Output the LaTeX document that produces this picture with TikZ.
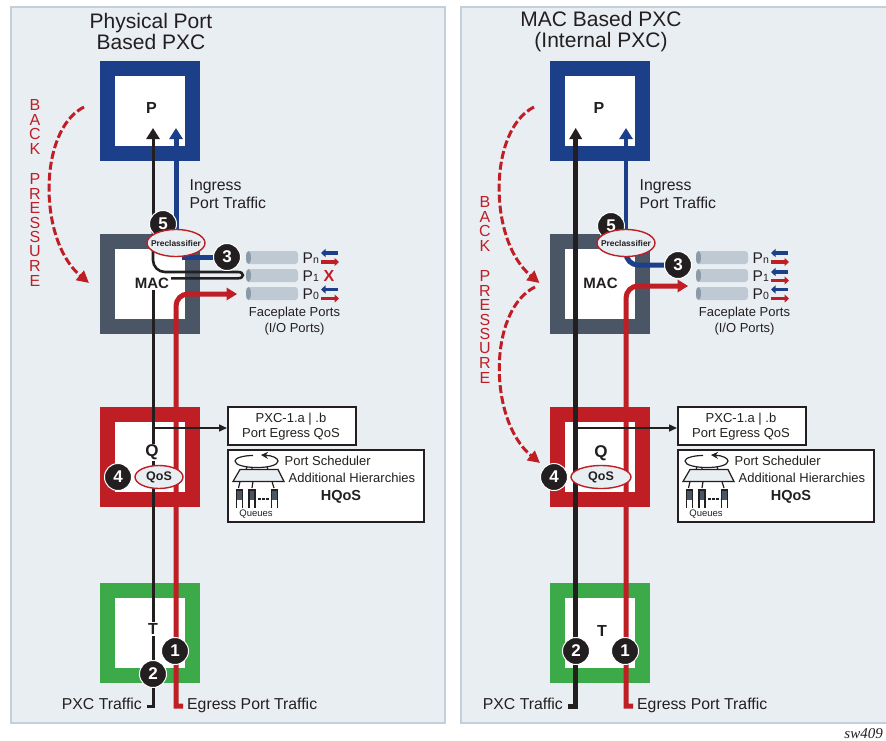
\documentclass[tikz,border=0pt]{standalone}
\usepackage{fontspec}
\setmainfont{Liberation Sans}
\newfontfamily\serifid{Liberation Serif}
\usetikzlibrary{arrows.meta,shapes.geometric}
\pgfdeclarelayer{sq}
\pgfdeclarelayer{ln}
\pgfsetlayers{sq,ln,main}
\definecolor{cblue}{HTML}{1C3F8A}
\definecolor{cslate}{HTML}{4A5565}
\definecolor{cred}{HTML}{BE1E24}
\definecolor{cgreen}{HTML}{3DAA4A}
\definecolor{cblack}{HTML}{231F20}
\definecolor{cbg}{HTML}{E9EEF3}
\definecolor{cedge}{HTML}{C3CFDA}
\definecolor{ccyl}{HTML}{BFC9D3}
\definecolor{ccap}{HTML}{8C9AA8}
\newcommand{\fs}[1]{\fontsize{#1}{#1}\selectfont}
\newcommand{\zerow}[1]{\makebox[0pt]{#1}}
\tikzset{
  x=1pt,y=-1pt,
  panelbox/.style={draw=cedge,line width=2pt,fill=cbg,anchor=north west,inner sep=0pt,minimum height=716pt},
  framebox/.style={draw=#1,line width=15pt,fill=white,minimum width=85pt,minimum height=85pt,inner sep=0pt},
  txt/.style={inner sep=0pt,font=\fs{#1},text=cblack},
  txt/.default=13,
  boldmark/.style={inner sep=1.5pt,fill=white,text=cblack,font=\bfseries\fs{#1}},
  num/.style={circle,fill=cblack,draw=white,line width=1pt,minimum size=27pt,inner sep=0pt,text=white,font=\bfseries\fs{17}},
  oval/.style={ellipse,draw=cred,line width=1.4pt,fill=cbg,inner sep=0pt,text=cblack},
  bigtip/.style={-{Triangle[length=11pt,width=13pt]}},
  redline/.style={draw=cred,line width=5pt},
  blueline/.style={draw=cblue,line width=5pt},
  blackline/.style={draw=cblack,line width=3pt},
  thickblack/.style={draw=cblack,line width=5.5pt},
  mini/.style={line width=3.6pt,-{Triangle[length=4.5pt,width=8pt]}},
  infobox/.style={draw=cblack,line width=1.5pt,fill=white,anchor=north west,inner sep=0pt},
  bparc/.style={draw=cred,line width=3pt,dash pattern=on 8pt off 3pt,-{Triangle[length=12pt,width=12pt]}},
  bpletter/.style={inner sep=0pt,text=cred,font=\fs{16}},
  cylbody/.style={fill=ccyl,rounded corners=3pt,minimum width=52pt,minimum height=13pt,inner sep=0pt},
  cylcap/.style={ellipse,fill=ccap,minimum width=5pt,minimum height=13pt,inner sep=0pt},
  icon/.style={draw=cblack,line width=1.2pt},
}
\begin{document}
\begin{tikzpicture}
\useasboundingbox (0,0) rectangle (886,740);
\begin{pgfonlayer}{sq}
  \node[panelbox,minimum width=433.5pt] (panelL) at (10,6) {};
  \node[panelbox,minimum width=430pt] (panelR) at (460,6) {};
\end{pgfonlayer}

\foreach \s/\dx in {L/0,R/450}{
\begin{scope}[xshift=\dx pt]
  \begin{pgfonlayer}{sq}
    \node[framebox=cblue]  (frameP\s) at (150,110.5) {};
    \node[framebox=cslate] (frameM\s) at (150,284) {};
    \node[framebox=cred]   (frameQ\s) at (150,457) {};
    \node[framebox=cgreen] (frameT\s) at (150,633) {};
  \end{pgfonlayer}
  % ports
  \foreach \n/\y in {n/257.5,1/275.5,0/293.5}{
    \node[cylbody] (cyl\n\s) at (272,\y) {};
    \node[cylcap] (cap\n\s) at (248.5,\y) {};
    \node[txt=15.5,anchor=base west] (lab\n\s) at (302.5,\y+5.5) {P{\fs{10.5}\n}};
  }
  \draw[mini,cblue] (338,253) -- (321,253);
  \draw[mini,cred]  (321,262) -- (339,262);
  \draw[mini,cblue] (338,289.5) -- (321,289.5);
  \draw[mini,cred]  (321,298.5) -- (339,298.5);
  \node[txt=13,anchor=center] (faceA\s) at (294.5,313) {Faceplate Ports};
  \node[txt=13,anchor=center] (faceB\s) at (294.5,329) {(I/O Ports)};
  \node[txt=15.8,anchor=base west] (ing\s) at (189.5,190) {Ingress};
  \node[txt=15.8,anchor=base west] (ptr\s) at (189.5,208) {Port Traffic};
  % boxes
  \node[infobox,minimum width=128pt,minimum height=38pt] (boxA\s) at (227,406) {};
  \node[txt=13] (boxAa\s) at (291,419) {PXC-1.a | .b};
  \node[txt=13] (boxAb\s) at (291,434.5) {Port Egress QoS};
  \node[infobox,minimum width=196pt,minimum height=72pt] (boxB\s) at (227,449) {};
  \draw[icon,-{Stealth[length=7pt,width=7pt]}] (253,455.5) .. controls (243,455.5) and (235,458) .. (235,461)
     .. controls (235,465) and (245,467.5) .. (257,467.5) .. controls (269,467.5) and (278,465) .. (278,461)
     .. controls (278,458) and (272,455.5) .. (261,455);
  \draw[icon,fill=cbg] (240,469.5) -- (278,469.5) -- (284,481.5) -- (233,481.5) -- cycle;
  \draw[icon] (247,467) -- (246,469.5) (252,467.5) -- (252,469.5) (267,467) -- (268,469.5);
  \draw[icon] (240,481.5) -- (238.5,488) (253,481.5) -- (252,488) (272,481.5) -- (274,488);
  \foreach \qx in {236.5,249,271.5}{
    \fill[cslate] (\qx,490) rectangle (\qx+6,500);
    \draw[icon] (\qx,508) -- (\qx,490) -- (\qx+6,490) -- (\qx+6,508);
  }
  \draw[icon,line width=1.4pt,dash pattern=on 2.5pt off 1.5pt] (258,499) -- (270,499);
  \node[txt=9.5] (qlab\s) at (256,514.5) {Queues};
  \node[txt=13,anchor=west] (sched\s) at (284.5,461) {Port Scheduler};
  \node[txt=13,anchor=west] (hier\s) at (288.5,478) {Additional Hierarchies};
  \node[inner sep=0pt,text=cblack,font=\bfseries\fs{14.5}] (hqos\s) at (341,497) {HQoS};
\end{scope}
}

% titles
\node[txt=21,align=center] (titleL) at (151,31.5) {Physical Port\\[0pt]Based PXC};
\node[txt=21,align=center] (titleR) at (601,31.5) {MAC Based PXC\\[0pt](Internal PXC)};
\node[inner sep=0pt,anchor=east,font=\serifid\itshape\fs{15},text=cblack] (swid) at (883,733.5) {sw409};
\node[text=cred,inner sep=0pt,font=\bfseries\fs{16}] (xmark) at (329,275.5) {X};

% letters
\node[boldmark=16] (lPL) at (151.5,108) {P};
\node[boldmark=15] (lML) at (152,283) {MAC};
\node[boldmark=17,inner sep=1pt] (lQL) at (152,452.5) {Q};
\node[boldmark=16] (lTL) at (153,629) {T};
\node[boldmark=16] (lPR) at (599,108) {P};
\node[boldmark=15] (lMR) at (600.5,283) {MAC};
\node[boldmark=17,inner sep=0pt] (lQR) at (601,453) {Q};
\node[boldmark=16] (lTR) at (602,631) {T};

% numbered markers
\node[num] (n5L) at (163,224) {5};
\node[num] (n3L) at (227,257) {3};
\node[num] (n4L) at (118,477) {4};
\node[num] (n1L) at (175,651) {1};
\node[num] (n2L) at (153,674) {2};
\node[num] (n5R) at (611,226) {5};
\node[num] (n3R) at (678,265) {3};
\node[num] (n4R) at (554,477) {4};
\node[num] (n1R) at (625,651) {1};
\node[num] (n2R) at (576,651) {2};

% ovals
\node[oval,minimum width=58pt,minimum height=27pt,font=\bfseries\fs{8.4}] (preL) at (176,243) {\zerow{Preclassifier}};
\node[oval,minimum width=58pt,minimum height=27pt,font=\bfseries\fs{8.4}] (preR) at (626,243) {\zerow{Preclassifier}};
\node[oval,minimum width=48pt,minimum height=23pt,font=\bfseries\fs{12.5}] (qosL) at (159,477) {\zerow{QoS}};
\node[oval,minimum width=60pt,minimum height=23pt,font=\bfseries\fs{12.5}] (qosR) at (601,477) {\zerow{QoS}};

% traffic labels
\node[txt=15.8,anchor=base east] (pxcLabL) at (142,709.5) {PXC Traffic};
\node[txt=15.8,anchor=base west] (egrLabL) at (187,709.5) {Egress Port Traffic};
\node[txt=15.8,anchor=base east] (pxcLabR) at (563,709.5) {PXC Traffic};
\node[txt=15.8,anchor=base west] (egrLabR) at (637,709.5) {Egress Port Traffic};

% free ends
\coordinate (tipBlackL) at (153,128);
\coordinate (tipBlueL)  at (176,128);
\coordinate (tipRedL)   at (237,294);
\coordinate (hookRedL)  at (183,706);
\coordinate (baseRedL)  at (176,706);
\coordinate (hookPxcL)  at (147,706.5);
\coordinate (basePxcL)  at (153,706.5);
\coordinate (forkL)     at (153,428);
\coordinate (tipBlackR) at (575.7,128);
\coordinate (tipBlueR)  at (626,128);
\coordinate (tipRedR)   at (688,286);
\coordinate (hookRedR)  at (633,706);
\coordinate (baseRedR)  at (626,706);
\coordinate (hookPxcR)  at (568,706.5);
\coordinate (basePxcR)  at (575.7,706.5);
\coordinate (forkR)     at (575.7,428);
\coordinate (pinTopL)   at (238,272);
\coordinate (pinLowL)   at (238,278.3);

\begin{pgfonlayer}{ln}
  % left panel
  \draw[redline] (hookRedL) -- (baseRedL) [rounded corners=12pt] -- (baseRedL |- tipRedL) -- ([xshift=-9pt]tipRedL);
  \fill[cred] (tipRedL) -- ++(-10.5,-6.5) -- ++(0,13) -- cycle;
  \draw[blackline] (hookPxcL) -- (basePxcL) -- (basePxcL |- lML);
  \draw[blackline,bigtip] (tipBlackL |- n5L) -- (tipBlackL);
  \draw[draw=cblack,line width=2.6pt,rounded corners=12pt] (tipBlackL |- n5L) -- (tipBlackL |- pinTopL) -- (pinTopL);
  \draw[draw=cblack,line width=2.6pt] (pinTopL) .. controls +(6.5,0) and +(6.5,0) .. (pinLowL) -- (lML.east |- pinLowL);
  \draw[blueline,bigtip] (preL.north) -- (tipBlueL);
  \draw[blueline] (182,257) -- (n3L);
  \draw[draw=cblack,line width=1.5pt,-{Triangle[length=8pt,width=7pt]}] (forkL) -- (forkL -| boxAL.west);
  % right panel
  \draw[redline] (hookRedR) -- (baseRedR) [rounded corners=12pt] -- (baseRedR |- tipRedR) -- ([xshift=-9pt]tipRedR);
  \fill[cred] (tipRedR) -- ++(-10.5,-6.5) -- ++(0,13) -- cycle;
  \draw[thickblack,line join=miter] (hookPxcR) -- (basePxcR) -- ([yshift=-9pt]tipBlackR);
  \fill[cblack] (tipBlackR) -- ++(-6.5,11) -- ++(13,0) -- cycle;
  \draw[blueline,bigtip,line width=4.5pt] (preR.north) -- (tipBlueR);
  \draw[blueline,rounded corners=12pt] (preR.south) |- (n3R);
  \draw[draw=cblack,line width=1.5pt,-{Triangle[length=8pt,width=7pt]}] (forkR) -- (forkR -| boxAR.west);
\end{pgfonlayer}

% right panel port arrows for P1 and the back pressure arcs
\draw[mini,cblue] (788,272) -- (771,272);
\draw[mini,cred]  (771,280.5) -- (789,280.5);

\coordinate (bpAstartL) at (84,107);
\coordinate (bpAendL)   at (89,283);
\coordinate (bpAstartR) at (534,107);
\coordinate (bpAendR)   at (539.5,283);
\coordinate (bpBstartR) at (535,287);
\coordinate (bpBendR)   at (540,463);
\draw[bparc] (bpAstartL) .. controls (38,130) and (38,240) .. (bpAendL);
\draw[bparc] (bpAstartR) .. controls (488,130) and (488,240) .. (bpAendR);
\draw[bparc] (bpBstartR) .. controls (488,310) and (488,420) .. (bpBendR);

% BACK PRESSURE letters
\foreach \c/\y in {B/105,A/119.5,C/134,K/148.5,P/179,R/193.5,E/208,S/222.5,S/237,U/251.5,R/266,E/281}{
  \node[bpletter] at (35,\y) {\c};
}
\foreach \c/\y in {B/202,A/216.5,C/231,K/245.5,P/276,R/290.5,E/305,S/319.5,S/334,U/348.5,R/363,E/378}{
  \node[bpletter] at (485,\y) {\c};
}
\end{tikzpicture}
\end{document}
